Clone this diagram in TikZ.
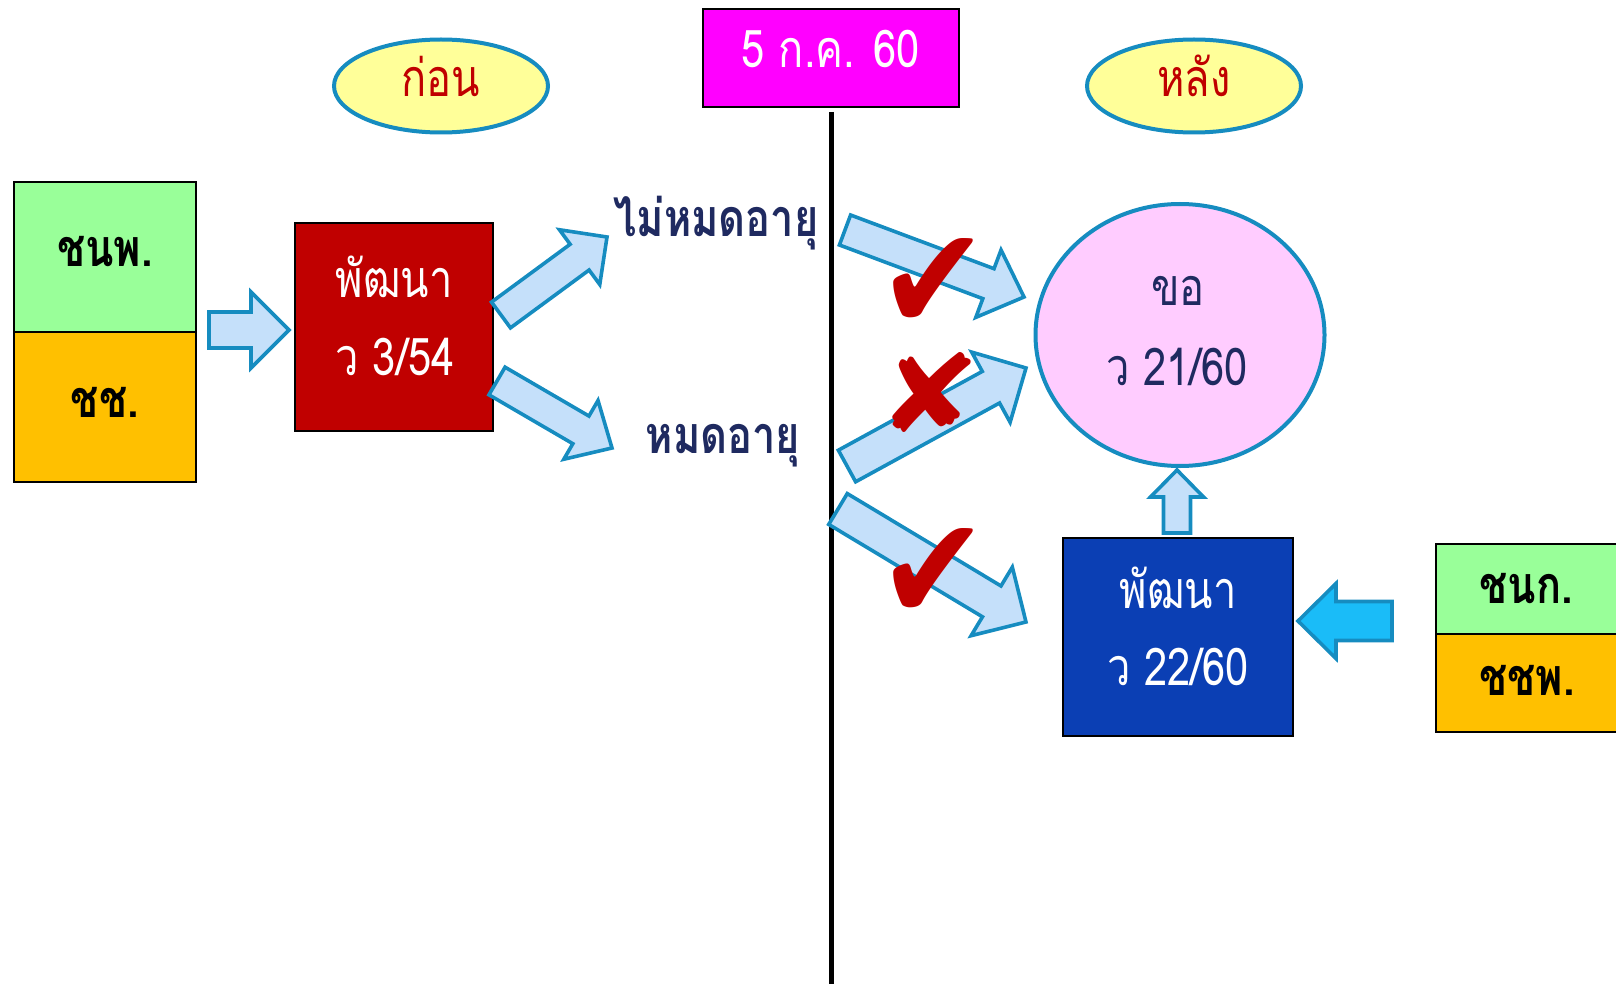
\documentclass[tikz,border=0pt]{standalone}
\usepackage{fontspec}
\usepackage{graphicx}
\setmainfont[Script=Thai, FakeStretch=0.8]{Loma}
\newfontfamily\symfont{DejaVu Sans}
\usetikzlibrary{shapes.geometric,calc}

\definecolor{boxgreen}{RGB}{153,255,153}
\definecolor{boxorange}{RGB}{255,192,0}
\definecolor{boxred}{RGB}{192,0,0}
\definecolor{boxmagenta}{RGB}{255,0,255}
\definecolor{boxblue}{RGB}{11,63,180}
\definecolor{ovalyellow}{RGB}{255,255,153}
\definecolor{ovalpink}{RGB}{255,204,255}
\definecolor{rimblue}{RGB}{22,140,192}
\definecolor{arrowfill}{RGB}{197,224,250}
\definecolor{arrowcyan}{RGB}{26,188,248}
\definecolor{textnavy}{RGB}{31,42,96}
\definecolor{markred}{RGB}{192,0,0}

\tikzset{every picture/.style={line width=0.75pt},
  box/.style={draw=black, line width=1.2pt, inner sep=0pt},
  oval/.style={ellipse, draw=rimblue, line width=2pt, inner sep=0pt},
  txt/.style={anchor=base, inner sep=0pt, font=\fontsize{26}{30}\selectfont},
  boldtxt/.style={txt, font=\fontsize{26}{30}\selectfont\bfseries},
  fatarrow/.style={draw=rimblue, fill=arrowfill, line width=1.8pt, line join=miter},
  tickmark/.style={inner sep=0pt, text=markred, font=\symfont}
}

% block arrow: [style] {tail} {tip} {shaft half width} {head half width} {head length}
\newcommand{\blockarrow}[6][]{%
  \coordinate (neck) at ($(#3)!#6!(#2)$);
  \draw[fatarrow,#1] ($(#2)!#4!90:(#3)$) -- ($(neck)!#4!90:(#3)$) -- ($(neck)!#5!90:(#3)$) -- (#3)
    -- ($(neck)!#5!-90:(#3)$) -- ($(neck)!#4!-90:(#3)$) -- ($(#2)!#4!-90:(#3)$) -- cycle;
}

\begin{document}
\begin{tikzpicture}[x=0.5pt,y=0.5pt,yscale=-1,xscale=1]
        \useasboundingbox (0,0) rectangle (1616,984);

        % date and divider
        \node[box, fill=boxmagenta, minimum width=128pt, minimum height=49pt] (date) at (831,58) {};
        \node[txt, text=white] (dateT) at (831,68) {5 ก.ค. 60};
        \coordinate (lineTop) at (831,112);
        \coordinate (lineEnd) at (831,984);
        \draw[line width=2.5pt] (lineTop) -- (lineEnd);

        % before / after
        \node[oval, fill=ovalyellow, minimum width=107pt, minimum height=46.5pt] (before) at (441,86) {};
        \node[txt, text=markred] (beforeT) at (441,97) {ก่อน};
        \node[oval, fill=ovalyellow, minimum width=107pt, minimum height=46.5pt] (after) at (1194,86) {};
        \node[txt, text=markred] (afterT) at (1194,97) {หลัง};

        % left side
        \node[box, fill=boxgreen, minimum width=91pt, minimum height=75pt] (cnp) at (105,257) {};
        \node[boldtxt] (cnpT) at (105,267) {ชนพ.};
        \node[box, fill=boxorange, minimum width=91pt, minimum height=75pt] (cc) at (105,407) {};
        \node[boldtxt] (ccT) at (105,417) {ชช.};

        \node[box, fill=boxred, minimum width=99pt, minimum height=104pt] (oldDev) at (394,327) {};
        \node[txt, text=white] (oldDevA) at (394,298) {พัฒนา};
        \node[txt, text=white] (oldDevB) at (395,375) {ว 3/54};

        \node[boldtxt, text=textnavy] (notExp) at (716,237) {ไม่หมดอายุ};
        \node[boldtxt, text=textnavy] (exp) at (723,453) {หมดอายุ};

        % right side
        \node[oval, fill=ovalpink, minimum width=144.5pt, minimum height=131pt] (ask) at (1180,335) {};
        \node[txt, text=textnavy] (askA) at (1178,306) {ขอ};
        \node[txt, text=textnavy] (askB) at (1177,385) {ว 21/60};

        \node[box, fill=boxblue, minimum width=115pt, minimum height=99pt] (newDev) at (1178,637) {};
        \node[txt, text=white] (newDevA) at (1178,608) {พัฒนา};
        \node[txt, text=white] (newDevB) at (1178,685) {ว 22/60};

        \node[box, fill=boxgreen, minimum width=91pt, minimum height=45pt] (cnk) at (1527,589) {};
        \node[boldtxt] (cnkT) at (1526,603) {ชนก.};
        \node[box, fill=boxorange, minimum width=91pt, minimum height=49pt] (ccp) at (1527,683) {};
        \node[boldtxt] (ccpT) at (1527,695) {ชชพ.};

        % arrow ends
        \coordinate (a1s) at (209,330);  \coordinate (a1e) at (289,330);
        \coordinate (a2s) at (501,315);  \coordinate (a2e) at (607,237);
        \coordinate (a3s) at (497,381);  \coordinate (a3e) at (612,448);
        \coordinate (a4s) at (845,230);  \coordinate (a4e) at (1024,297);
        \coordinate (a5s) at (847,466);  \coordinate (a5e) at (1026,368);
        \coordinate (a6s) at (838,509);  \coordinate (a6e) at (1026,622);
        \coordinate (a7s) at (1177,533); \coordinate (a7e) at (1177,470);
        \coordinate (a8s) at (1392,621); \coordinate (a8e) at (1298,621);

        \blockarrow{a1s}{a1e}{9pt}{19pt}{19pt}
        \blockarrow{a2s}{a2e}{8pt}{17pt}{17pt}
        \blockarrow{a3s}{a3e}{8pt}{17pt}{18pt}
        \blockarrow{a4s}{a4e}{8pt}{18pt}{19pt}
        \blockarrow{a5s}{a5e}{9pt}{20pt}{20pt}
        \blockarrow{a6s}{a6e}{9pt}{20pt}{20pt}
        \blockarrow{a7s}{a7e}{6.75pt}{13.25pt}{13.5pt}
        \blockarrow[fill=arrowcyan]{a8s}{a8e}{9.75pt}{18.75pt}{19pt}

        % check and cross
        \node[tickmark] (okA) at (933,284) {\resizebox*{55pt}{46pt}{✔}};
        \node[tickmark] (noA) at (929,392) {\resizebox*{52pt}{40pt}{✘}};
        \node[tickmark] (okB) at (933,574) {\resizebox*{55pt}{46pt}{✔}};

\end{tikzpicture}
\end{document}
